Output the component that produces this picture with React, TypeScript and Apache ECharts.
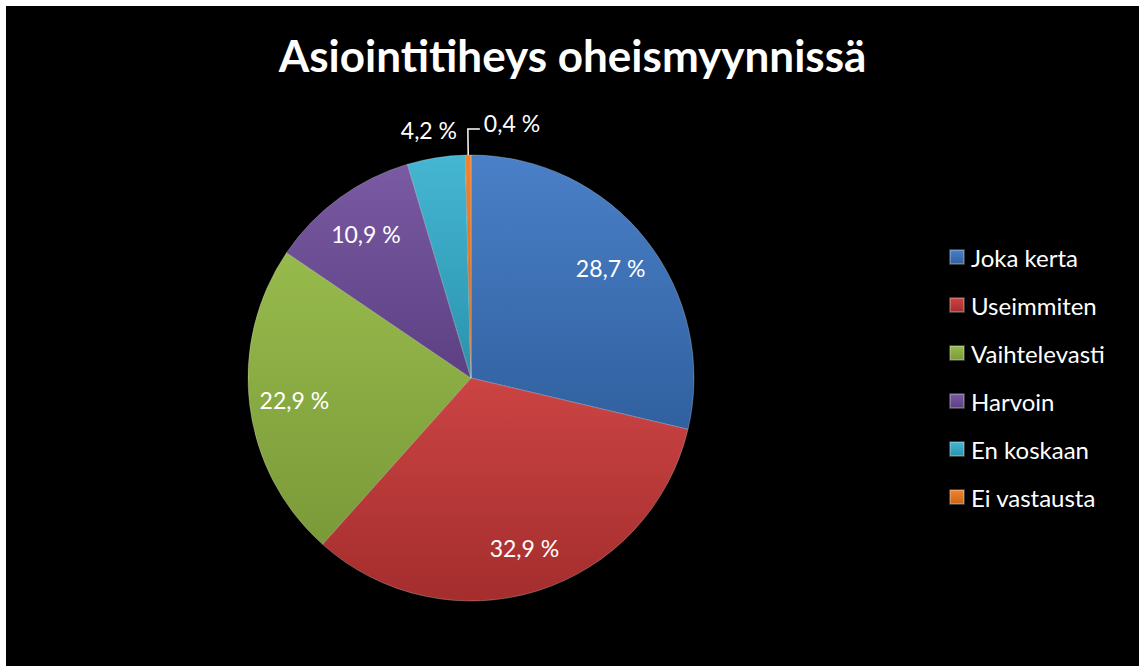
import React, { useEffect, useRef } from "react";
import * as echarts from "echarts";

const titleText = "Asiointitiheys oheismyynnissä";
const categories = ["Joka kerta", "Useimmiten", "Vaihtelevasti", "Harvoin", "En koskaan", "Ei vastausta"];
const values = [28.7, 32.9, 22.9, 10.9, 4.2, 0.4];
const labelTexts = ["28,7 %", "32,9 %", "22,9 %", "10,9 %", "4,2 %", "0,4 %"];
const topColors = ["#4a80c8", "#cc4444", "#97ba4c", "#7a5aa3", "#45b6d3", "#f08530"];
const bottomColors = ["#30609f", "#a42d2d", "#7a9a38", "#5c4083", "#2a93ad", "#c9631a"];

const FONT = "Lato, 'Open Sans', sans-serif";

export default function App() {
  const ref = useRef<HTMLDivElement>(null);
  useEffect(() => {
    if (!ref.current) return;
    const chart = echarts.init(ref.current, undefined, { renderer: "svg" });
    const grad = (i: number) =>
      new echarts.graphic.LinearGradient(0, 0, 0, 1, [
        { offset: 0, color: topColors[i] },
        { offset: 1, color: bottomColors[i] },
      ]);
    const mainData = categories.map((name, i) => ({
      name,
      value: values[i],
      itemStyle: { color: grad(i) },
      label: {
        show: i >= 4,
        formatter: labelTexts[i],
      },
      labelLine: { show: i === 5 },
    }));
    const overlayData = categories.map((name, i) => ({
      name,
      value: values[i],
      label: { show: i < 4, formatter: labelTexts[i] },
    }));
    chart.setOption({
      animation: false,
      backgroundColor: "#000000",
      title: {
        text: titleText,
        left: "center",
        top: 22,
        textStyle: { color: "#ffffff", fontSize: 44, fontWeight: "bold", fontFamily: FONT },
      },
      legend: {
        orient: "vertical",
        left: 938,
        top: 234,
        itemWidth: 14,
        itemHeight: 14,
        itemGap: 24,
        icon: "rect",
        data: categories,
        textStyle: { color: "#ffffff", fontSize: 24, lineHeight: 24, fontFamily: FONT, padding: [0, 0, 0, 2] },
      },
      series: [
        {
          type: "pie",
          center: [465, 372],
          radius: [0, 223],
          startAngle: 90,
          clockwise: true,
          avoidLabelOverlap: false,
          data: mainData,
          itemStyle: { borderColor: "rgba(255,255,255,0.25)", borderWidth: 1 },
          label: {
            position: "outside",
            color: "#ffffff",
            fontSize: 23,
            fontFamily: FONT,
          },
          labelLine: {
            length: 26,
            length2: 10,
            smooth: false,
            lineStyle: { color: "#ffffff", width: 1.5 },
          },
          labelLayout: (params: any) => {
            if (params.dataIndex === 4) return { dx: 40, dy: -2 };
            if (params.dataIndex === 5 && params.labelLinePoints) {
              const pts = params.labelLinePoints;
              const p0 = pts[0];
              const p1 = pts[1];
              const p2 = [p1[0] + 12, p1[1]];
              const r = params.labelRect;
              return {
                labelLinePoints: [p0, p1, p2],
                x: p2[0] + 4,
                y: p2[1] - 6,
                align: "left",
                verticalAlign: "middle",
              };
            }
            return {};
          },
          emphasis: { disabled: true },
        },
        {
          type: "pie",
          center: [465, 372],
          radius: [0, 350],
          startAngle: 90,
          clockwise: true,
          silent: true,
          legendHoverLink: false,
          data: overlayData,
          itemStyle: { color: "rgba(0,0,0,0)", borderWidth: 0 },
          label: {
            position: "inside",
            color: "#ffffff",
            fontSize: 23,
            fontFamily: FONT,
          },
          labelLine: { show: false },
          emphasis: { disabled: true },
          tooltip: { show: false },
        },
      ],
    });
    return () => chart.dispose();
  }, []);
  return (
    <div
      ref={ref}
      style={{ position: "absolute", left: 6, top: 6, width: 1133, height: 660 }}
    />
  );
}
